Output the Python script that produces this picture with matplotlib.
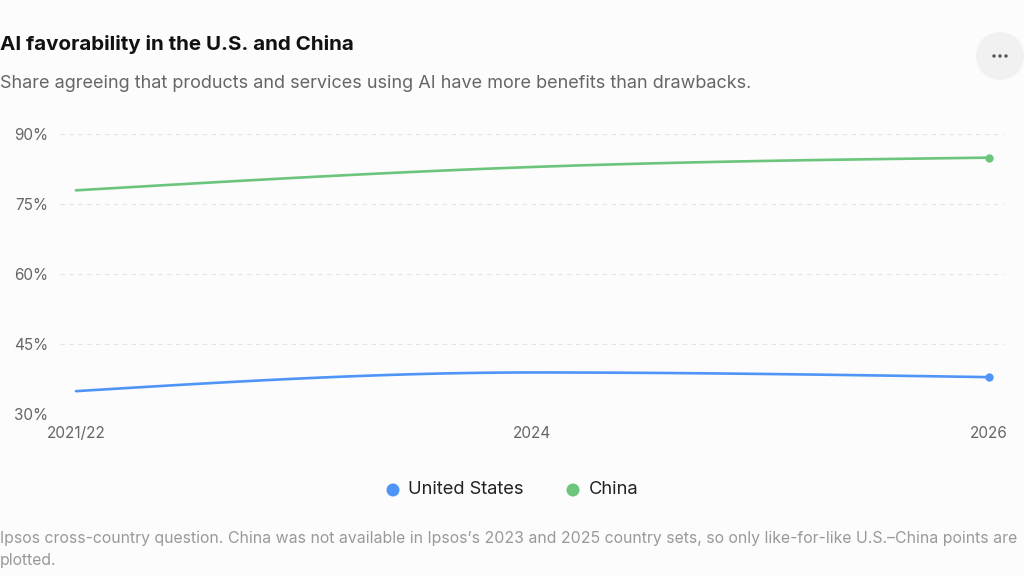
import numpy as np
import matplotlib
matplotlib.use("Agg")
import matplotlib.pyplot as plt
from matplotlib.patches import Ellipse

# data
periods = ["2021/22", "2024", "2026"]
us_share = [35, 39, 38]
china_share = [78, 83, 85]
y_ticks = [30, 45, 60, 75, 90]

BLUE = "#4f95f7"
GREEN = "#6cc57c"
BG = "#fcfcfc"

plt.rcParams["font.family"] = ["Inter", "DejaVu Sans"]


def monotone_x(xs, ys, n=60):
    # same idea as d3.curveMonotoneX, used only to draw the line between points
    xs = np.asarray(xs, float)
    ys = np.asarray(ys, float)
    h = np.diff(xs)
    s = np.diff(ys) / h
    t = np.zeros(len(xs))
    for i in range(1, len(xs) - 1):
        p = (s[i - 1] * h[i] + s[i] * h[i - 1]) / (h[i - 1] + h[i])
        t[i] = (np.sign(s[i - 1]) + np.sign(s[i])) * min(abs(s[i - 1]), abs(s[i]), 0.5 * abs(p))
    t[0] = (3 * s[0] - t[1]) / 2
    t[-1] = (3 * s[-1] - t[-2]) / 2
    px, py = [], []
    u = np.linspace(0, 1, n)
    for i in range(len(xs) - 1):
        dx = h[i] / 3
        P = [(xs[i], ys[i]), (xs[i] + dx, ys[i] + dx * t[i]),
             (xs[i + 1] - dx, ys[i + 1] - dx * t[i + 1]), (xs[i + 1], ys[i + 1])]
        b = [(1 - u) ** 3, 3 * u * (1 - u) ** 2, 3 * u ** 2 * (1 - u), u ** 3]
        px.append(sum(b[k] * P[k][0] for k in range(4)))
        py.append(sum(b[k] * P[k][1] for k in range(4)))
    return np.concatenate(px), np.concatenate(py)


W, H = 1024, 576
fig = plt.figure(figsize=(W / 100, H / 100), dpi=100, facecolor=BG)


def dot(xp, yp, r, color):
    # round dot placed in pixel units
    fig.patches.append(Ellipse((xp / W, 1 - yp / H), 2 * r / W, 2 * r / H,
                               transform=fig.transFigure, facecolor=color, edgecolor="none"))


# plot area in pixels: gridlines x 60..1004, y 134..414
ax = fig.add_axes([60 / W, 1 - 414.5 / H, 944 / W, 280.2 / H])
ax.set_facecolor(BG)
x = np.arange(len(periods))
ax.set_xlim(-16 / 456.5, 2 + 15 / 456.5)
ax.set_ylim(30, 90)

for yv in y_ticks:
    ax.axhline(yv, color="#e3e3e3", lw=0.8, ls=(0, (4, 4)), zorder=0)

for vals, col in [(us_share, BLUE), (china_share, GREEN)]:
    sx, sy = monotone_x(x, vals)
    ax.plot(sx, sy, color=col, lw=1.9, solid_capstyle="round", clip_on=False, zorder=3)
    ax.plot(x[-1], vals[-1], "o", color=col, ms=6, mec="none", clip_on=False, zorder=4)

for sp in ax.spines.values():
    sp.set_visible(False)
ax.set_yticks(y_ticks)
ax.set_yticklabels([f"{v}%" for v in y_ticks])
ax.set_xticks(x)
ax.set_xticklabels(periods)
ax.tick_params(length=0, labelsize=11, colors="#666666")
ax.tick_params(axis="y", pad=8.5)
ax.tick_params(axis="x", pad=8.5)

# header
fig.text(0 / W, 1 - 44 / H, "AI favorability in the U.S. and China", fontsize=14.8,
         fontweight="bold", color="#111111", va="center", ha="left")
fig.text(0 / W, 1 - 83 / H,
         "Share agreeing that products and services using AI have more benefits than drawbacks.",
         fontsize=13, color="#666666", va="center", ha="left")

# menu button
dot(1000, 56, 24, "#f1f1f1")
for dxp in (-6, 0, 6):
    dot(1000 + dxp, 56, 1.7, "#555555")

# legend
dot(393, 490, 6.5, BLUE)
fig.text(408 / W, 1 - 490 / H, "United States", fontsize=13.2, color="#222222", va="center", ha="left")
dot(573, 490, 6.5, GREEN)
fig.text(589 / W, 1 - 490 / H, "China", fontsize=13.2, color="#222222", va="center", ha="left")

# footnote
fig.text(0, 1 - 538 / H,
         "Ipsos cross-country question. China was not available in Ipsos\u2019s 2023 and 2025 "
         "country sets, so only like-for-like U.S.\u2013China points are",
         fontsize=11.4, color="#999999", va="center", ha="left")
fig.text(0, 1 - 560 / H, "plotted.", fontsize=11.4, color="#999999", va="center", ha="left")

fig.savefig("out.png", dpi=100, facecolor=BG)
